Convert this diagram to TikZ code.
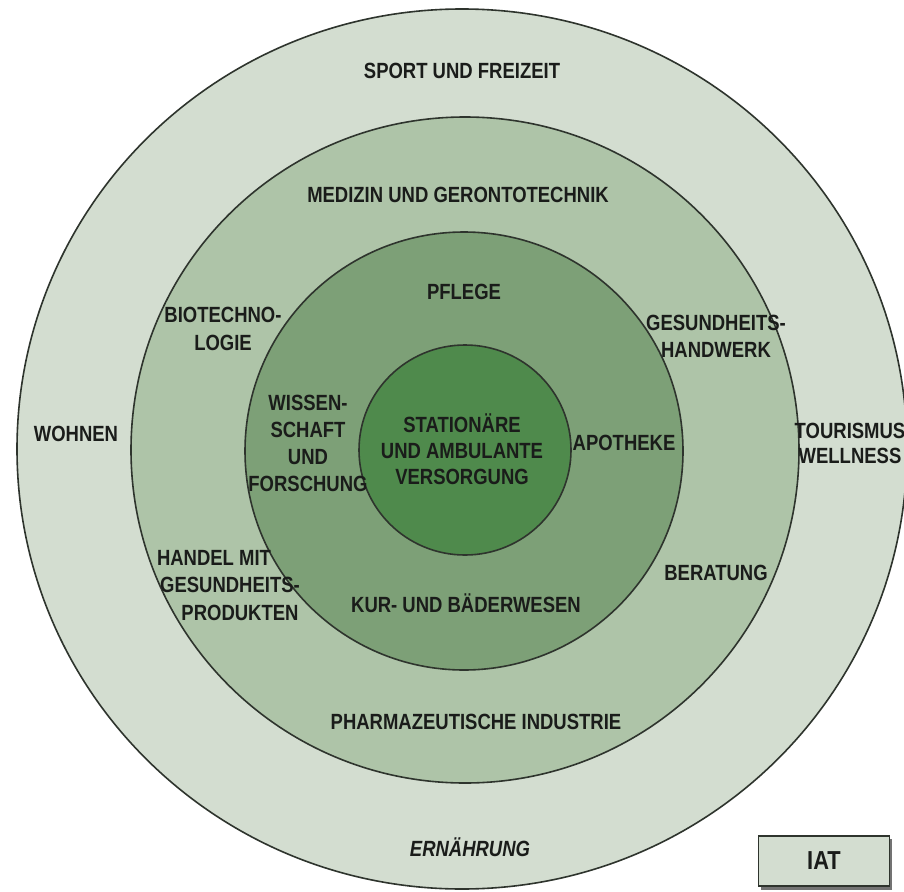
\documentclass[tikz,border=0pt]{standalone}
\usepackage{fontspec}
\setmainfont{Liberation Sans}[FakeStretch=0.84]
\definecolor{ringA}{HTML}{D3DDD0}
\definecolor{ringB}{HTML}{AEC4A8}
\definecolor{ringC}{HTML}{7DA077}
\definecolor{ringD}{HTML}{4F8A4C}
\definecolor{edge}{HTML}{2E342D}
\definecolor{ink}{HTML}{1A1C1A}
\tikzset{
  ring/.style={draw=edge, line width=1.6pt},
  lab/.style={text=ink, font=\bfseries\fontsize{22}{27}\selectfont, align=center, inner sep=0pt},
}
\begin{document}
\begin{tikzpicture}[x=1pt,y=-1pt]
\useasboundingbox (0,0) rectangle (904,891);
\fill[white] (0,0) rectangle (904,891);
% rings
\draw[ring, fill=ringA] (462,449) ellipse [x radius=445, y radius=440];
\draw[ring, fill=ringB] (465,450) ellipse [x radius=334, y radius=333];
\draw[ring, fill=ringC] (464,451) ellipse [x radius=219, y radius=219];
\draw[ring, fill=ringD] (465,450) ellipse [x radius=106, y radius=105];
% outer ring labels
\node[lab] (sport) at (462,71) {SPORT UND FREIZEIT};
\node[lab] (wohnen) at (76,434) {WOHNEN};
\node[lab, font=\bfseries\fontsize{22}{25}\selectfont] (tour) at (850,443) {TOURISMUS\\WELLNESS};
\node[lab, font=\bfseries\itshape\fontsize{22}{27}\selectfont] (ernaehrung) at (470,847) {ERNÄHRUNG};
% second ring labels
\node[lab] (medizin) at (458,195) {MEDIZIN UND GERONTOTECHNIK};
\node[lab, font=\bfseries\fontsize{22}{28}\selectfont] (bio) at (223,329) {BIOTECHNO-\\LOGIE};
\node[lab] (gesund) at (716,336) {GESUNDHEITS-\\HANDWERK};
\node[lab] (handel1) at (214,558) {HANDEL MIT};
\node[lab] (handel2) at (230,585) {GESUNDHEITS-};
\node[lab] (handel3) at (240,613) {PRODUKTEN};
\node[lab] (beratung) at (716,573) {BERATUNG};
\node[lab] (pharma) at (476,722) {PHARMAZEUTISCHE INDUSTRIE};
% third ring labels
\node[lab] (pflege) at (464,292) {PFLEGE};
\node[lab, font=\bfseries\fontsize{22}{27}\selectfont] (wiss) at (308,443) {WISSEN-\\SCHAFT\\UND\\FORSCHUNG};
\node[lab] (apotheke) at (624,443) {APOTHEKE};
\node[lab] (kur) at (466,603) {KUR- UND BÄDERWESEN};
% centre
\node[lab, font=\bfseries\fontsize{22}{26}\selectfont] (stat) at (462,449) {STATIONÄRE\\UND AMBULANTE\\VERSORGUNG};
% IAT box
\fill[black!55] (761,839) rectangle (892,890);
\node[draw=edge, line width=1.6pt, fill=ringA, minimum width=131pt, minimum height=50pt, inner sep=0pt,
      text=ink, font=\bfseries\fontsize{26}{28}\selectfont] (iat) at (824,861) {IAT};
\end{tikzpicture}
\end{document}
